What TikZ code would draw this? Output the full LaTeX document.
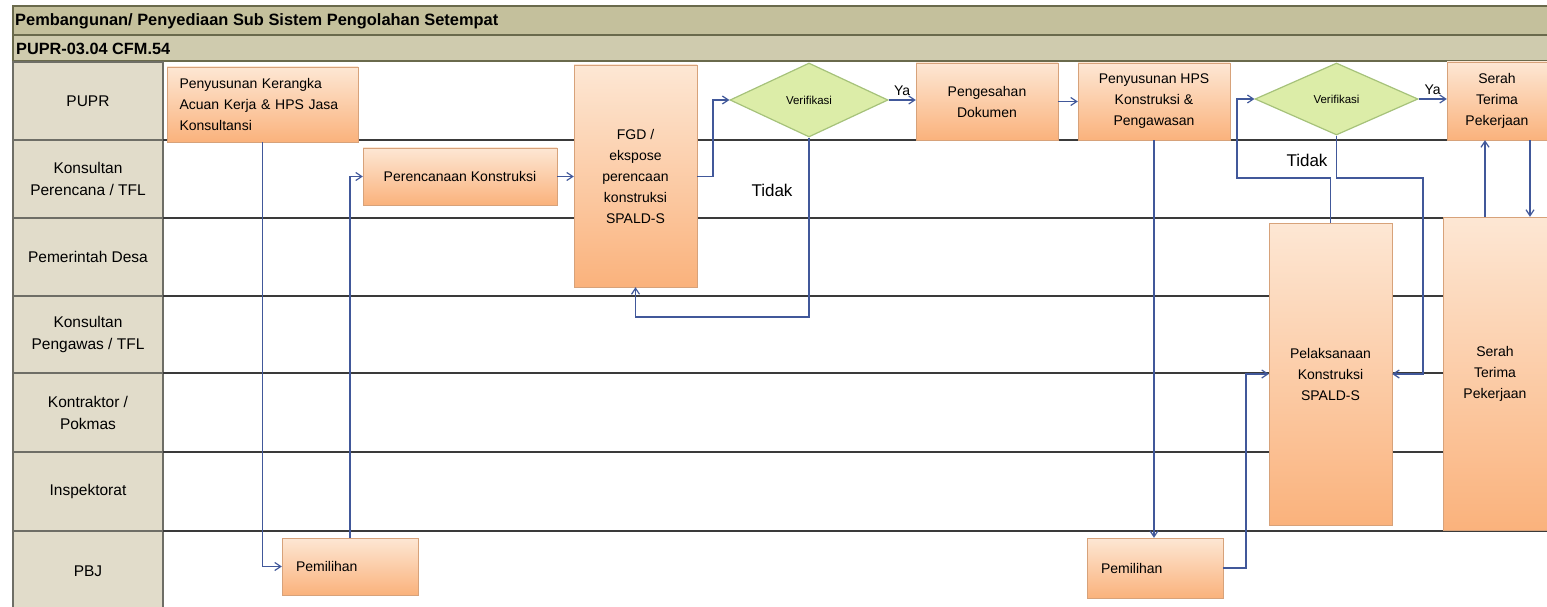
\documentclass[tikz,border=0pt]{standalone}
\usepackage{fontspec}
\setmainfont{Liberation Sans}
\usetikzlibrary{shapes.geometric,arrows.meta}
\definecolor{band}{HTML}{C4C09C}
\definecolor{bandlight}{HTML}{CFCBAE}
\definecolor{bandedge}{HTML}{6A6A4C}
\definecolor{lanefill}{HTML}{E1DCCA}
\definecolor{laneedge}{HTML}{6E6E66}
\definecolor{sepline}{HTML}{3A3A3A}
\definecolor{tasktop}{HTML}{FDE7D4}
\definecolor{taskbot}{HTML}{FAB27C}
\definecolor{taskedge}{HTML}{D7A27A}
\definecolor{checkfill}{HTML}{DCEDA8}
\definecolor{checkedge}{HTML}{A6C27A}
\definecolor{flowblue}{HTML}{41589A}

\begin{document}
\begin{tikzpicture}[x=1pt,y=-1pt,
    lane/.style={draw=laneedge, fill=lanefill, line width=1.2, minimum width=150, minimum height=78, inner sep=0, align=center, font=\fontsize{15.5}{22}\selectfont},
    task/.style={draw=taskedge, top color=tasktop, bottom color=taskbot, inner sep=0, align=center, font=\fontsize{14}{21}\selectfont},
    check/.style={diamond, draw=checkedge, fill=checkfill, line width=1.2, inner sep=0, font=\fontsize{11.5}{14}\selectfont},
    flow/.style={draw=flowblue, line width=1.2, -{Straight Barb[length=6pt,width=8pt]}},
    sep/.style={draw=sepline, line width=1.5},
    say/.style={font=\fontsize{17}{20}\selectfont}]

    \fill[white] (0,0) rectangle (1547,607);
    \useasboundingbox (0,0) rectangle (1547,607);

    \draw[fill=band, draw=bandedge, line width=1.5] (13,6) rectangle (1560,35);
    \draw[fill=bandlight, draw=bandedge, line width=1.5] (13,35) rectangle (1560,61);
    \node[anchor=west, inner sep=0, font=\bfseries\fontsize{16.4}{18}\selectfont] (title) at (15,21) {Pembangunan/ Penyediaan Sub Sistem Pengolahan Setempat};
    \node[anchor=west, inner sep=0, font=\bfseries\fontsize{16.3}{18}\selectfont] (code) at (16,49) {PUPR-03.04 CFM.54};

    \node[lane] (l1) at (88,101) {PUPR};
    \node[lane] (l2) at (88,179) {Konsultan\\Perencana / TFL};
    \node[lane] (l3) at (88,257) {Pemerintah Desa};
    \node[lane, minimum height=77] (l4) at (88,334.5) {Konsultan\\Pengawas / TFL};
    \node[lane, minimum height=79] (l5) at (88,412.5) {Kontraktor /\\Pokmas};
    \node[lane, minimum height=79] (l6) at (88,491.5) {Inspektorat};
    \node[lane, minimum height=81] (l7) at (88,571.5) {PBJ};

    \foreach \y in {140,218,296,373,452,531}
        \draw[sep] (163,\y) -- (1547,\y);

    \node[task, align=left, text width=166, minimum width=191, minimum height=75] (kak) at (262.5,104.5) {Penyusunan Kerangka\\Acuan Kerja \& HPS Jasa\\Konsultansi};
    \node[task, minimum width=194, minimum height=57] (renc) at (460,176.5) {Perencanaan Konstruksi};
    \node[task, minimum width=123, minimum height=222] (fgd) at (635.5,176) {FGD /\\ekspose\\perencaan\\konstruksi\\SPALD-S};
    \node[check, minimum width=158, minimum height=74] (ver1) at (809,100) {Verifikasi};
    \node[task, minimum width=142, minimum height=77] (sah) at (987,101.5) {Pengesahan\\Dokumen};
    \node[task, minimum width=152, minimum height=77] (hps) at (1154,101.5) {Penyusunan HPS\\Konstruksi \&\\Pengawasan};
    \node[check, minimum width=163, minimum height=72] (ver2) at (1336.5,99) {Verifikasi};
    \node[task, minimum width=100, minimum height=78] (ser1) at (1497,101) {Serah\\Terima\\Pekerjaan};
    \node[task, minimum width=123, minimum height=302] (lak) at (1330.5,374) {Pelaksanaan\\Konstruksi\\SPALD-S};
    \node[task, minimum width=104, minimum height=313] (ser2) at (1495,373.5) {Serah\\Terima\\Pekerjaan};
    \node[task, align=left, text width=108, minimum width=136, minimum height=57] (pem1) at (350,566.5) {Pemilihan};
    \node[task, align=left, text width=108, minimum width=136, minimum height=60] (pem2) at (1155,568) {Pemilihan};

    \node[say] (no1) at (772,190) {Tidak};
    \node[say] (no2) at (1307,160) {Tidak};

    \draw[flow] (kak.south) |- (pem1.west);
    \draw[flow] (pem1.north) |- (renc.west);
    \draw[flow] (renc.east) -- (renc.east -| fgd.west);
    \draw[flow] (fgd.east |- renc.east) -- (713,176.5) |- (ver1.west);
    \draw[flow] (ver1.east) -- node[above, font=\fontsize{14}{16}\selectfont] {Ya} (ver1.east -| sah.west);
    \draw[flow] (ver1.south) -- (809,317) -| (fgd.south);
    \draw[flow] (sah.east) -- (hps.west);
    \draw[flow] (hps.south) -- (hps.south |- pem2.north);
    \draw[flow] (pem2.east) -- (1246,568) |- (lak.west);
    \draw[flow] (lak.north) |- (1237,178) |- (ver2.west);
    \draw[flow] (ver2.east) -- node[above, font=\fontsize{14}{16}\selectfont] {Ya} (ver2.east -| ser1.west);
    \draw[flow] (ver2.south) |- (1423,178) |- (lak.east);
    \draw[flow] (ser2.north -| 1485,0) -- (ser1.south -| 1485,0);
    \draw[flow] (ser1.south -| 1530,0) -- (ser2.north -| 1530,0);
\end{tikzpicture}
\end{document}
